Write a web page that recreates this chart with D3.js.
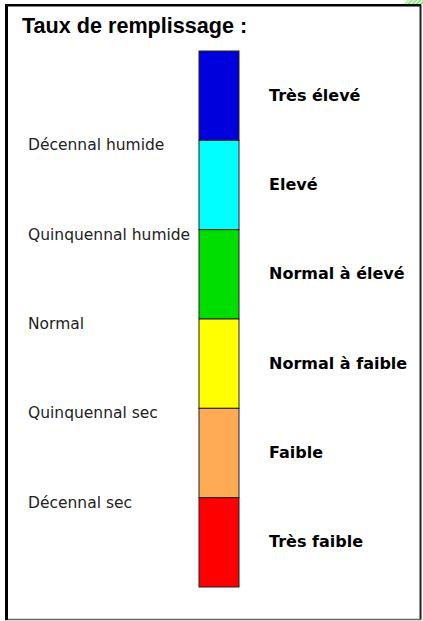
<!DOCTYPE html>
<html>
<head>
<meta charset="utf-8">
<script src="https://cdn.jsdelivr.net/npm/d3@7"></script>
<style>
  body { margin: 0; background: white; }
</style>
</head>
<body>
<div id="chart"></div>
<script>
// fill level classes, top to bottom
const levels = ['Très élevé', 'Elevé', 'Normal à élevé', 'Normal à faible', 'Faible', 'Très faible'];
const levelColors = ['#0000dd', '#00ffff', '#00dd00', '#ffff00', '#ffaa55', '#ff0000'];
// return period labels, drawn at the boundary under each of the first five levels
const boundaryLabels = ['Décennal humide', 'Quinquennal humide', 'Normal', 'Quinquennal sec', 'Décennal sec'];

const width = 423
const height = 621

const svg = d3.select('#chart')
    .append('svg')
    .attr('width', width)
    .attr('height', height);

// hatched corner peeking out at top right
const defs = svg.append('defs');
const pat = defs.append('pattern')
    .attr('id', 'hatch')
    .attr('width', 3)
    .attr('height', 3)
    .attr('patternUnits', 'userSpaceOnUse')
    .attr('patternTransform', 'rotate(45)');
pat.append('rect').attr('width', 3).attr('height', 3).attr('fill', '#d8f5c8');
pat.append('line').attr('x1', 0).attr('y1', 0).attr('x2', 0).attr('y2', 3)
    .attr('stroke', '#55cc55').attr('stroke-width', 1.5);
svg.append('path')
    .attr('d', 'M403,5 L408,0 L423,0 L423,5 Z')
    .attr('fill', 'url(#hatch)');

// frame: heavy black top/left, thinner grey right/bottom
svg.append('line').attr('x1', 420.5).attr('y1', 5).attr('x2', 420.5).attr('y2', 620)
    .attr('stroke', '#222').attr('stroke-width', 2);
svg.append('line').attr('x1', 5).attr('y1', 619.5).attr('x2', 421).attr('y2', 619.5)
    .attr('stroke', '#666').attr('stroke-width', 1.5);
svg.append('line').attr('x1', 5).attr('y1', 5.3).attr('x2', 421).attr('y2', 5.3)
    .attr('stroke', 'black').attr('stroke-width', 2.6);
svg.append('line').attr('x1', 6.5).attr('y1', 4).attr('x2', 6.5).attr('y2', 620)
    .attr('stroke', 'black').attr('stroke-width', 3);

svg.append('text')
    .attr('x', 22)
    .attr('y', 33)
    .style('font-family', '"Liberation Sans", Arial, sans-serif')
    .style('font-size', '21.6px')
    .style('font-weight', 'bold')
    .text('Taux de remplissage :');

const yScale = d3.scaleBand()
    .domain(levels)
    .range([51, 587])
    .paddingInner(0);

const colorScale = d3.scaleOrdinal()
    .domain(levels)
    .range(levelColors);

const barX = 199
const barW = 40

svg.selectAll('rect.level')
    .data(levels)
    .enter()
    .append('rect')
    .attr('class', 'level')
    .attr('x', barX)
    .attr('y', d => yScale(d))
    .attr('width', barW)
    .attr('height', yScale.bandwidth())
    .attr('fill', d => colorScale(d))
    .attr('stroke', '#222')
    .attr('stroke-width', 1);

svg.selectAll('text.level')
    .data(levels)
    .enter()
    .append('text')
    .attr('class', 'level')
    .attr('x', 269)
    .attr('y', d => yScale(d) + yScale.bandwidth() / 2 + 5)
    .style('font-family', '"DejaVu Sans", sans-serif')
    .style('font-size', '16px')
    .style('font-weight', 'bold')
    .text(d => d);

svg.selectAll('text.boundary')
    .data(boundaryLabels)
    .enter()
    .append('text')
    .attr('class', 'boundary')
    .attr('x', 28)
    .attr('y', (d, i) => yScale(levels[i + 1]) + 10)
    .style('font-family', '"DejaVu Sans", sans-serif')
    .style('font-size', '15.5px')
    .style('fill', '#222')
    .text(d => d);
</script>
</body>
</html>
